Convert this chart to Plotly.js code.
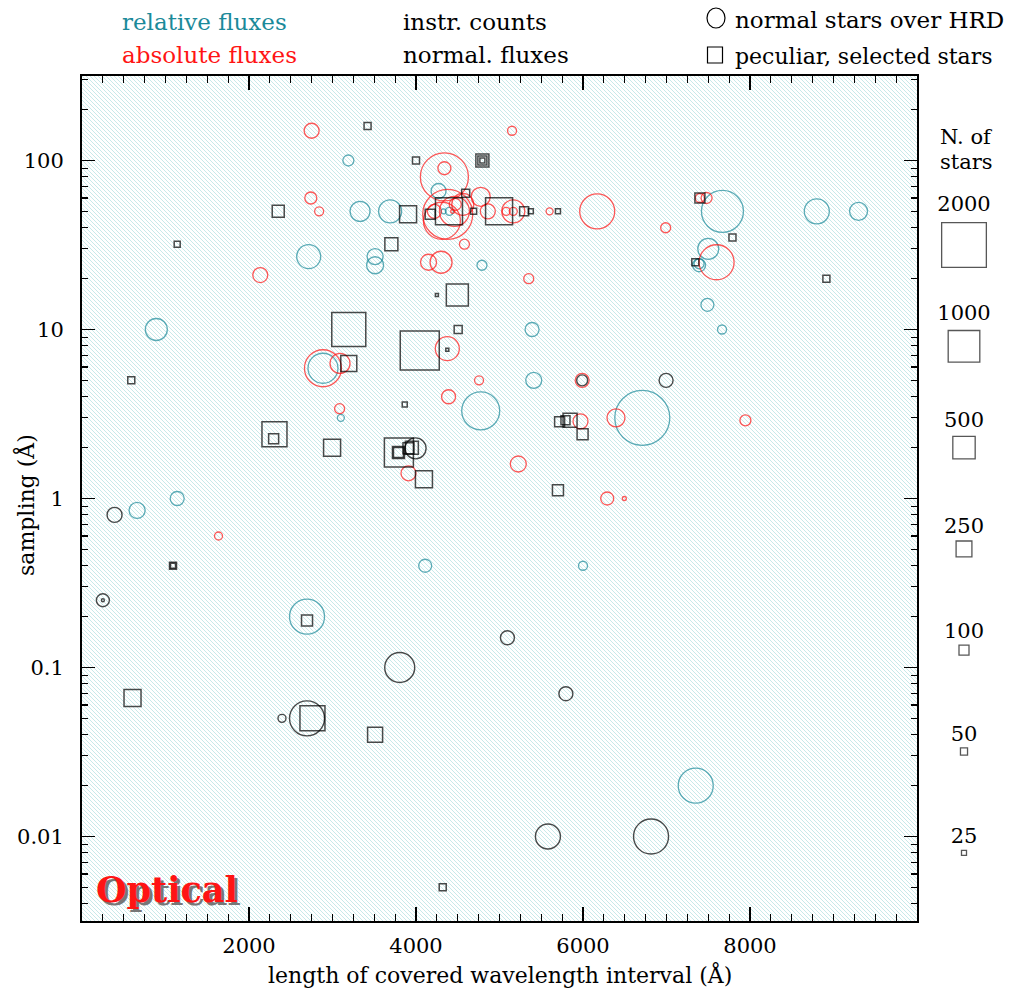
<!DOCTYPE html>
<html><head><meta charset="utf-8">
<script src="https://cdn.plot.ly/plotly-3.0.1.min.js"></script>
<style>body{margin:0;background:#fff}#chart{width:1017px;height:988px}</style>
</head><body><div id="chart"></div>
<script>
// ---- data: x = length of covered wavelength interval (A), y = sampling (A), n = number of stars ----
// relative fluxes, normal stars (teal circles)
const relX = [3190,3330,2715,3510,3510,890,4270,3690,4400,4330,4790,5390,7670,8800,9300,7500,7390,7390,7490,7665,2886,3100,1140,660,5410,4775,6710,4110,6000,2695,7350];
const relY = [100,50,27,27,24,10,66,50,50,50,24,10,50,50,50,30,24,24.5,14,10,5.9,3.0,1.0,0.85,5,3.3,3.0,0.4,0.4,0.2,0.02];
const relN = [121,400,576,256,289,484,225,529,64,25,100,196,1764,625,324,441,169,100,169,81,900,49,196,256,256,1444,3025,169,81,1225,1225];
// absolute fluxes, normal stars (red circles)
const absX = [2750,2740,2840,2135,5150,4340,4340,4775,4380,4310,4460,4220,4560,4470,4440,4860,5080,5165,5165,5600,6170,6990,4580,4150,4300,5350,7480,7600,2886,3090,3085,1635,4375,4755,5990,4390,5970,6395,3910,5225,6290,6495,7945,7400];
const absY = [150,60,50,21,150,80,90,61,48,44,50,50,55,55,50,50,50,50,50,50,50,40,32,25,25,20,60,25,5.9,6.3,3.4,0.6,7.7,5,5,4.0,2.86,3.0,1.41,1.6,1.0,1.0,2.9,60];
const absN = [225,144,81,225,81,2304,169,361,2500,1369,900,196,484,144,16,225,64,64,529,49,1225,100,100,256,484,100,121,1225,1369,400,100,64,576,81,196,196,225,324,225,256,169,16,121,81];
// instr. counts / normal. fluxes, normal stars (black circles)
const cntX = [5990,6995,3995,390,250,250,3805,2695,2395,5095,5795,5580,6815];
const cntY = [5,5,1.98,0.8,0.25,0.25,0.1,0.05,0.05,0.15,0.07,0.01,0.01];
const cntN = [121,196,441,225,169,9,900,1225,64,196,196,625,1225];
// peculiar, selected stars (black squares)
const pecX = [3420,2350,1140,3195,4000,4795,4795,4795,4595,4395,3905,4170,4690,4995,5295,5375,5700,3705,4250,4495,4505,4045,7400,7790,7345,8915,590,3195,2305,2295,2995,1090,1090,4375,3865,5720,5790,5845,5995,3795,3790,3790,3910,3950,4095,5700,2695,605,2760,3510,4320];
const pecY = [160,50,32,10,100,100,100,100,64,50,48,48,50,50,50,50,50,32,16,16,10,7.5,60,35,25,20,5,6.3,2.4,2.26,2.0,0.4,0.4,7.6,3.6,2.85,2.9,2.9,2.4,1.87,1.87,1.87,1.98,2.0,1.3,1.12,0.19,0.066,0.05,0.04,0.005];
const pecN = [49,144,36,1156,49,169,81,25,64,729,289,100,36,729,81,25,25,169,9,484,64,1521,100,49,49,49,49,256,625,100,289,49,25,9,25,100,81,196,121,841,100,144,121,169,289,121,121,289,625,225,49];
// size key on the right
const keyN = [2000,1000,500,250,100,50,25];

const TEAL = '#1b8a9a', RED = '#ff1414', BLACK = '#000000';
const FONT = 'DejaVu Serif';
const W = 1017, H = 988, L = 82, T = 76, PW = 935, PH = 845;
const px = v => (v - L) / PW;
const py = v => 1 - (v - T) / PH;

function ring(x, y, n, color, sym, lw) {
  return {type:'scatter', mode:'markers', x:x, y:y, xaxis:'x', yaxis:'y', hoverinfo:'x+y',
    marker:{symbol:sym, size:n.map(Math.sqrt), color:'rgba(0,0,0,0)', line:{color:color, width:lw}},
    cliponaxis:true};
}
const traces = [
  ring(relX, relY, relN, TEAL, 'circle', 1.3),
  ring(absX, absY, absN, RED, 'circle', 1.3),
  ring(cntX, cntY, cntN, BLACK, 'circle', 1.4),
  ring(pecX, pecY, pecN, BLACK, 'square', 1.5),
  {type:'scatter', mode:'markers+text', xaxis:'x2', yaxis:'y2', hoverinfo:'skip',
   x:keyN.map(() => 47), y:keyN.map((n, i) => 169 + i * 101.3),
   text:keyN.map(String), textposition:'top center', textfont:{family:FONT, size:21, color:'#000'},
   marker:{symbol:'square', size:keyN.map(Math.sqrt), color:'rgba(0,0,0,0)', line:{color:'#111', width:1.3}},
   cliponaxis:false}
];

// hatched background
const hw = 4;
const svg = `<svg xmlns="http://www.w3.org/2000/svg" width="835" height="845"><defs><pattern id="h" patternUnits="userSpaceOnUse" width="${hw}" height="${hw}"><rect width="${hw}" height="${hw}" fill="#ffffff"/><path d="M0,0 L${hw},${hw} M-1,${hw-1} L1,${hw+1} M${hw-1},-1 L${hw+1},1" stroke="#c2e7e7" stroke-width="0.9"/></pattern></defs><rect width="835" height="845" fill="url(#h)"/></svg>`;
const bgSrc = 'data:image/svg+xml;charset=utf-8,' + encodeURIComponent(svg);

const minorY = [];
for (let d = -3; d <= 2; d++) for (let k = 2; k <= 9; k++) minorY.push(k * Math.pow(10, d));

const ann = (x, y, text, opts) => Object.assign({xref:'paper', yref:'paper', x:px(x), y:py(y), text:text,
  showarrow:false, xanchor:'left', yanchor:'middle', font:{family:FONT, size:23, color:'#000'}}, opts || {});

const layout = {
  width:W, height:H, margin:{l:L, r:0, t:T, b:H - T - PH, pad:0},
  paper_bgcolor:'#ffffff', plot_bgcolor:'rgba(0,0,0,0)', showlegend:false,
  font:{family:FONT, size:21, color:'#000'},
  xaxis:{domain:[0, 835 / PW], range:[0, 10000], tickvals:[2000,4000,6000,8000], ticktext:['2000','4000','6000','8000'],
    ticks:'inside', ticklen:14, tickwidth:1.5, tickcolor:'#000', ticklabelstandoff:5,
    minor:{dtick:250, tick0:0, ticks:'inside', ticklen:7, tickwidth:1.2, tickcolor:'#000', showgrid:false},
    showline:true, linecolor:'#000', linewidth:2, mirror:'ticks', showgrid:false, zeroline:false,
    tickfont:{family:FONT, size:21}},
  yaxis:{type:'log', range:[-2.5, 2.5], tickvals:[0.01,0.1,1,10,100], ticktext:['0.01','0.1','1','10','100'],
    ticks:'inside', ticklen:13, tickwidth:1.5, tickcolor:'#000', ticklabelstandoff:12,
    minor:{tickvals:minorY, ticks:'inside', ticklen:6, tickwidth:1.2, tickcolor:'#000', showgrid:false},
    showline:true, linecolor:'#000', linewidth:2, mirror:'ticks', showgrid:false, zeroline:false,
    tickfont:{family:FONT, size:21}},
  xaxis2:{domain:[835 / PW, 1], range:[0, 100], visible:false, anchor:'y2', fixedrange:true},
  yaxis2:{domain:[0, 1], range:[845, 0], visible:false, anchor:'x2', fixedrange:true},
  images:[{source:bgSrc, xref:'paper', yref:'paper', x:0, y:1, sizex:835 / PW, sizey:1,
    sizing:'stretch', layer:'below', xanchor:'left', yanchor:'top'}],
  shapes:[
    {type:'circle', xref:'paper', yref:'paper', xsizemode:'pixel', ysizemode:'pixel', xanchor:px(716), yanchor:py(18),
     x0:-9, x1:9, y0:-10, y1:10, line:{color:'#000', width:1.2}},
    {type:'rect', xref:'paper', yref:'paper', xsizemode:'pixel', ysizemode:'pixel', xanchor:px(715), yanchor:py(55),
     x0:-7.5, x1:7.5, y0:-8, y1:8, line:{color:'#000', width:1.2}}
  ],
  annotations:[
    ann(120, 22, 'relative fluxes', {font:{family:FONT, size:23, color:TEAL}}),
    ann(120, 55, 'absolute fluxes', {font:{family:FONT, size:23, color:RED}}),
    ann(401, 22, 'instr. counts'),
    ann(401, 55, 'normal. fluxes'),
    ann(733, 20, 'normal stars over HRD'),
    ann(733, 56, 'peculiar, selected stars', {font:{family:FONT, size:22, color:'#000'}}),
    ann(966, 137, 'N. of', {xanchor:'center', font:{family:FONT, size:21, color:'#000'}}),
    ann(966, 162, 'stars', {xanchor:'center', font:{family:FONT, size:21, color:'#000'}}),
    ann(499.5, 975, 'length of covered wavelength interval (Å)', {xanchor:'center', font:{family:FONT, size:22}}),
    ann(25, 505, 'sampling (Å)', {xanchor:'center', textangle:-90, font:{family:FONT, size:22}}),
    ann(94, 889, 'Optical', {font:{family:FONT, size:35, color:RED, weight:'bold', shadow:'3px 3px 0px #777'}})
  ]
};

Plotly.newPlot('chart', traces, layout, {staticPlot:true, displayModeBar:false});
</script></body></html>
